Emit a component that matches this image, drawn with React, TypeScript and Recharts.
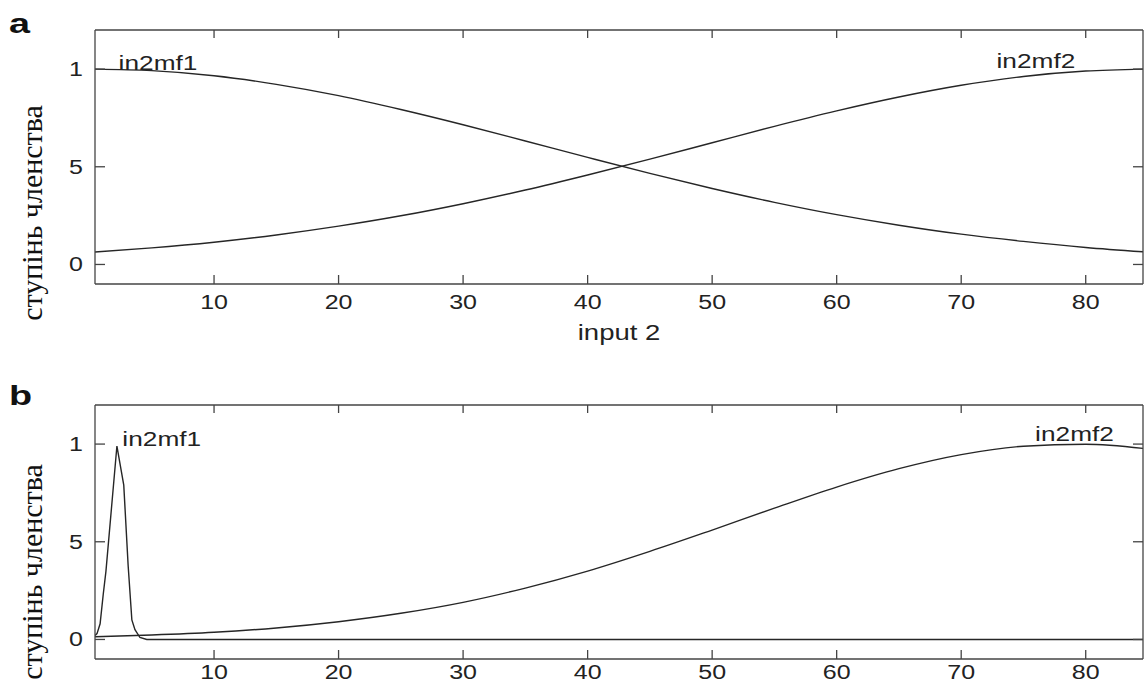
import React from 'react';
import { LineChart, Line, XAxis, YAxis, ReferenceDot } from 'recharts';

// axes
const xDomain = [0.44, 84.6];
const xTicks = [10, 20, 30, 40, 50, 60, 70, 80];
const yDomain = [-0.1, 1.2];
const yTicks = [0, 0.5, 1];
const yTickLabels = ['0', '5', '1'];
const mfNames = ['in2mf1', 'in2mf2'];

// panel a – two wide gaussians
const inputA = [0.44, 5, 10, 15, 20, 25, 30, 35, 40, 45, 50, 55, 60, 65, 70, 75, 80, 84.6];
const mf1A = [1, 0.992, 0.966, 0.922, 0.864, 0.793, 0.715, 0.632, 0.548, 0.466, 0.389, 0.318, 0.255, 0.201, 0.155, 0.118, 0.087, 0.065];
const mf2A = [0.064, 0.085, 0.114, 0.151, 0.196, 0.249, 0.311, 0.381, 0.458, 0.539, 0.623, 0.707, 0.786, 0.857, 0.917, 0.962, 0.99, 1];

// panel b – narrow spike + wide gaussian
const inputB1 = [0.44, 0.6, 0.85, 1.1, 1.32, 2.2, 2.75, 3.1, 3.4, 3.65, 4.05, 4.6, 10, 20, 30, 40, 50, 60, 70, 80, 84.6];
const mf1B = [0.02, 0.03, 0.08, 0.23, 0.35, 0.99, 0.79, 0.38, 0.1, 0.05, 0.01, 0, 0, 0, 0, 0, 0, 0, 0, 0, 0];
const inputB2 = [0.44, 5, 10, 15, 20, 25, 30, 35, 40, 45, 50, 55, 60, 65, 70, 75, 80, 84.6];
const mf2B = [0.014, 0.023, 0.037, 0.059, 0.091, 0.134, 0.19, 0.263, 0.35, 0.451, 0.56, 0.672, 0.78, 0.874, 0.946, 0.989, 0.999, 0.978];

const rowsA = inputA.map((x, i) => ({ x, mf1: mf1A[i], mf2: mf2A[i] }));
const rowsB1 = inputB1.map((x, i) => ({ x, y: mf1B[i] }));
const rowsB2 = inputB2.map((x, i) => ({ x, y: mf2B[i] }));

const INK = '#262626';
const FRAME = '#444';
const SX = 1.25;
const SANS = '"Liberation Sans", Arial, sans-serif';

const Txt = ({ x, y, size = 20, anchor = 'middle', children }: any) => (
  <text
    transform={`translate(${x},${y}) scale(${SX},1)`}
    textAnchor={anchor}
    fontSize={size}
    fontFamily={SANS}
    fill="#222"
  >
    {children}
  </text>
);

const bottomTick = (gap: number) => (p: any) => (
  <g>
    <line x1={p.x} y1={p.y} x2={p.x} y2={p.y - 9} stroke={FRAME} strokeWidth={1.3} />
    <Txt x={p.x} y={p.y + gap}>{p.payload.value}</Txt>
  </g>
);
const topTick = (p: any) => (
  <line x1={p.x} y1={p.y} x2={p.x} y2={p.y + 8} stroke={FRAME} strokeWidth={1.3} />
);
const leftTick = (p: any) => (
  <g>
    <line x1={p.x} y1={p.y} x2={p.x + 10} y2={p.y} stroke={FRAME} strokeWidth={1.3} />
    <Txt x={p.x - 12} y={p.y + 7} anchor="end">{yTickLabels[yTicks.indexOf(p.payload.value)]}</Txt>
  </g>
);
const rightTick = (p: any) => (
  <line x1={p.x} y1={p.y} x2={p.x - 10} y2={p.y} stroke={FRAME} strokeWidth={1.3} />
);

const nameShape = (name: string) => (p: any) => <Txt x={p.cx} y={p.cy + 7} size={21}>{name}</Txt>;

const Frame = ({ topH, bottomH, xLabel, labelGap }: any) => [
  <XAxis
    key="xb"
    type="number"
    dataKey="x"
    domain={xDomain}
    allowDataOverflow
    ticks={xTicks}
    interval={0}
    height={bottomH}
    tickSize={0}
    tickMargin={0}
    tickLine={false}
    tick={bottomTick(labelGap)}
    axisLine={{ stroke: FRAME, strokeWidth: 1.3 }}
    label={
      xLabel
        ? {
            content: (lp: any) => {
              const vb = lp.viewBox;
              return <Txt x={vb.x + vb.width / 2} y={vb.y + 56} size={22}>{xLabel}</Txt>;
            },
          }
        : undefined
    }
  />,
  <XAxis
    key="xt"
    xAxisId="top"
    orientation="top"
    type="number"
    dataKey="x"
    domain={xDomain}
    allowDataOverflow
    ticks={xTicks}
    interval={0}
    height={topH}
    tickSize={0}
    tickMargin={0}
    tickLine={false}
    tick={topTick}
    axisLine={{ stroke: FRAME, strokeWidth: 1.3 }}
  />,
  <YAxis
    key="yl"
    type="number"
    domain={yDomain}
    allowDataOverflow
    ticks={yTicks}
    interval={0}
    width={95}
    tickSize={0}
    tickMargin={0}
    tickLine={false}
    tick={leftTick}
    axisLine={{ stroke: FRAME, strokeWidth: 1.3 }}
  />,
  <YAxis
    key="yr"
    yAxisId="r"
    orientation="right"
    type="number"
    domain={yDomain}
    allowDataOverflow
    ticks={yTicks}
    interval={0}
    width={1}
    tickSize={0}
    tickMargin={0}
    tickLine={false}
    tick={rightTick}
    axisLine={{ stroke: FRAME, strokeWidth: 1.3 }}
  />,
];

export default function App() {
  return (
    <div style={{ position: 'absolute', left: 0, top: 0, width: 1144, height: 684, background: '#fff', overflow: 'hidden' }}>
      <div style={{ position: 'absolute', left: 0, top: 0 }}>
        <LineChart width={1144} height={350} data={rowsA} margin={{ top: 0, right: 0, bottom: 0, left: 0 }}>
          {Frame({ topH: 30, bottomH: 66, xLabel: 'input 2', labelGap: 25 })}
          <Line dataKey="mf1" type="monotone" stroke={INK} strokeWidth={1.4} dot={false} isAnimationActive={false} />
          <Line dataKey="mf2" type="monotone" stroke={INK} strokeWidth={1.4} dot={false} isAnimationActive={false} />
          <ReferenceDot x={5.5} y={1.03} r={0} shape={nameShape(mfNames[0])} />
          <ReferenceDot x={76} y={1.04} r={0} shape={nameShape(mfNames[1])} />
        </LineChart>
      </div>
      <div style={{ position: 'absolute', left: 0, top: 370 }}>
        <LineChart width={1144} height={314} margin={{ top: 0, right: 0, bottom: 0, left: 0 }}>
          {Frame({ topH: 35, bottomH: 25, labelGap: 20 })}
          <Line data={rowsB1} dataKey="y" type="linear" stroke={INK} strokeWidth={1.4} dot={false} isAnimationActive={false} />
          <Line data={rowsB2} dataKey="y" type="monotone" stroke={INK} strokeWidth={1.4} dot={false} isAnimationActive={false} />
          <ReferenceDot x={5.8} y={1.025} r={0} shape={nameShape(mfNames[0])} />
          <ReferenceDot x={79.1} y={1.05} r={0} shape={nameShape(mfNames[1])} />
        </LineChart>
      </div>
      <svg width={1144} height={684} style={{ position: 'absolute', left: 0, top: 0, pointerEvents: 'none' }}>
        <text transform="translate(9,33) scale(1.4,1)" fontSize={27} fontWeight="bold" fontFamily={SANS} fill="#111">a</text>
        <text transform="translate(9,405) scale(1.4,1)" fontSize={27} fontWeight="bold" fontFamily={SANS} fill="#111">b</text>
        <text transform="translate(42,213) rotate(-90)" textAnchor="middle" fontSize={30} fontFamily='"Liberation Serif", "Times New Roman", serif' fill="#111">ступінь членства</text>
        <text transform="translate(42,572) rotate(-90)" textAnchor="middle" fontSize={30} fontFamily='"Liberation Serif", "Times New Roman", serif' fill="#111">ступінь членства</text>
      </svg>
    </div>
  );
}
